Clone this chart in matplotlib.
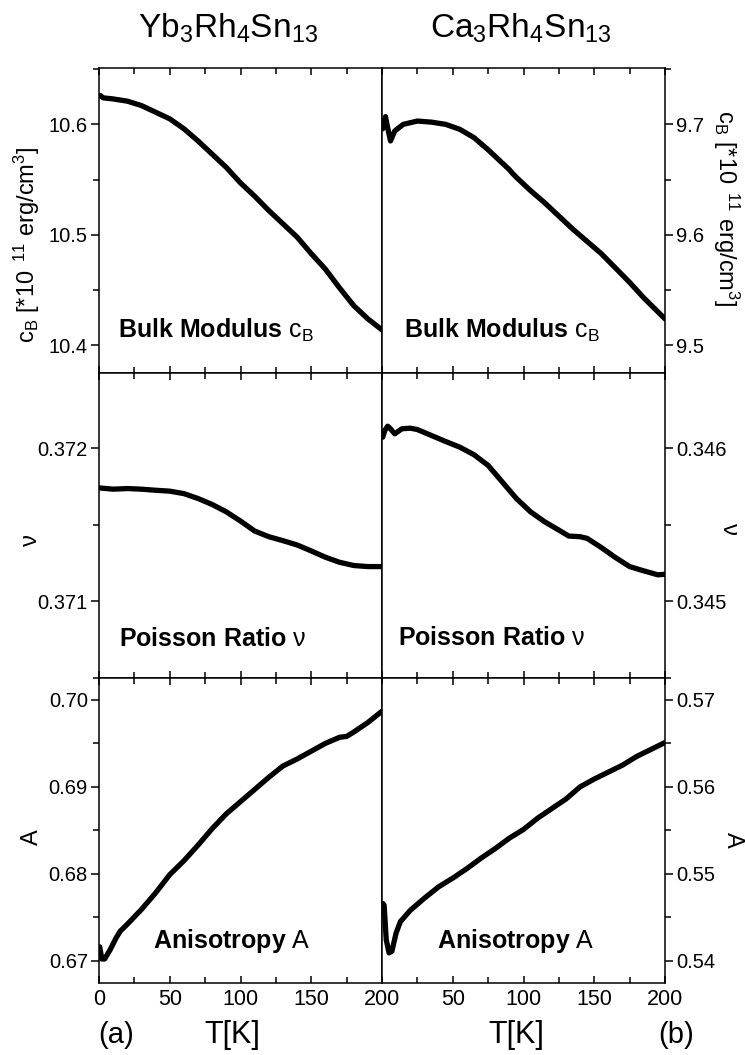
import numpy as np
import matplotlib
matplotlib.use('Agg')
import matplotlib.pyplot as plt
from matplotlib.ticker import MultipleLocator, FormatStrFormatter

plt.rcParams['font.family'] = ['Liberation Sans', 'DejaVu Sans']
plt.rcParams['mathtext.fontset'] = 'custom'
plt.rcParams['mathtext.rm'] = 'Liberation Sans'
plt.rcParams['mathtext.it'] = 'Liberation Sans:italic'
plt.rcParams['mathtext.bf'] = 'Liberation Sans:bold'

# Yb3Rh4Sn13 (a)
T_yb_cb = [1, 3, 10, 20, 30, 40, 50, 60, 70, 80, 90, 100, 110, 120, 130, 140, 150, 160, 170, 180, 190, 200]
cb_yb = [10.626, 10.624, 10.623, 10.621, 10.617, 10.611, 10.605, 10.596, 10.585, 10.573, 10.561, 10.547,
         10.535, 10.522, 10.510, 10.498, 10.483, 10.469, 10.452, 10.436, 10.424, 10.414]

T_yb_nu = [0.5, 10, 20, 30, 40, 50, 60, 70, 80, 90, 100, 110, 120, 130, 140, 150, 160, 170, 180, 190, 200]
nu_yb = [0.37174, 0.371732, 0.371736, 0.371732, 0.371725, 0.371719, 0.371703, 0.371671, 0.371632, 0.371584,
         0.371524, 0.371459, 0.371422, 0.371396, 0.371368, 0.371329, 0.371288, 0.371255, 0.371234, 0.371227, 0.371227]

T_yb_a = [0.5, 2, 4, 8, 12, 15, 20, 30, 40, 50, 60, 70, 80, 90, 100, 110, 120, 130, 140, 150, 160, 170, 175, 180, 190, 200]
a_yb = [0.6716, 0.6702, 0.6702, 0.6713, 0.6726, 0.6734, 0.6742, 0.6759, 0.6778, 0.6799, 0.6815, 0.6833, 0.6852,
        0.6869, 0.6883, 0.6897, 0.6911, 0.6924, 0.6932, 0.6941, 0.6950, 0.6957, 0.6958, 0.6963, 0.6974, 0.6987]

# Ca3Rh4Sn13 (b)
T_ca_cb = [0.5, 2.5, 3.5, 6, 9, 15, 25, 35, 45, 55, 65, 75, 85, 90, 92, 95, 105, 115, 125, 135, 145, 155, 165, 175, 185, 200]
cb_ca = [9.696, 9.707, 9.700, 9.685, 9.694, 9.700, 9.703, 9.702, 9.700, 9.6955, 9.688, 9.677, 9.665, 9.659, 9.656,
         9.652, 9.640, 9.629, 9.617, 9.605, 9.594, 9.583, 9.570, 9.557, 9.543, 9.524]

T_ca_nu = [0.5, 2, 4, 6, 9, 14, 20, 25, 35, 45, 55, 65, 75, 85, 95, 105, 115, 125, 132, 140, 145, 155, 165, 175, 185, 195, 200]
nu_ca = [0.346071, 0.346115, 0.346143, 0.346126, 0.346093, 0.346126, 0.34613, 0.346121, 0.346082, 0.346043,
         0.346006, 0.345957, 0.345887, 0.345779, 0.345671, 0.345584, 0.345519, 0.345465, 0.345426, 0.345422,
         0.345411, 0.345351, 0.345286, 0.345227, 0.345199, 0.345173, 0.345177]

T_ca_a = [0.5, 1.5, 3, 5, 7, 10, 13, 20, 30, 40, 50, 60, 70, 80, 90, 100, 110, 120, 130, 140, 150, 160, 170, 180, 190, 200]
a_ca = [0.5466, 0.5464, 0.5424, 0.5409, 0.5411, 0.5432, 0.5445, 0.5458, 0.5472, 0.5485, 0.5495, 0.5506, 0.5518,
        0.5529, 0.5541, 0.5551, 0.5564, 0.5575, 0.5586, 0.5600, 0.5609, 0.5617, 0.5625, 0.5635, 0.5643, 0.5651]

titles = [r'Yb$_3$Rh$_4$Sn$_{13}$', r'Ca$_3$Rh$_4$Sn$_{13}$']
cb_label = r'c$_\mathrm{B}$ [*10$^{\ \ 11}$ erg/cm$^3$]'

fig = plt.figure(figsize=(7.45, 10.55), dpi=100)
gs = fig.add_gridspec(3, 2, left=99 / 745, right=665 / 745, top=1 - 68 / 1055, bottom=1 - 983 / 1055,
                      hspace=0, wspace=0)
axes = [[fig.add_subplot(gs[r, c]) for c in range(2)] for r in range(3)]

rows = [
    ((T_yb_cb, cb_yb, (10.375, 10.651), 0.1, 0.05, '%.1f'),
     (T_ca_cb, cb_ca, (9.475, 9.751), 0.1, 0.05, '%.1f'),
     cb_label, r'$\mathbf{Bulk\ Modulus}$ c$_\mathrm{B}$', (0.067, 0.115), (0.076, 0.115),
     ((-0.255, 0.42), (1.215, 0.54))),
    ((T_yb_nu, nu_yb, (0.3705, 0.37249), 0.001, 0.0005, '%.3f'),
     (T_ca_nu, nu_ca, (0.3445, 0.34649), 0.001, 0.0005, '%.3f'),
     r'$\mathrm{\nu}$', r'$\mathbf{Poisson\ Ratio}$ $\mathrm{\nu}$', (0.069, 0.104), (0.056, 0.107),
     ((-0.24, 0.45), (1.226, 0.49))),
    ((T_yb_a, a_yb, (0.66744, 0.70252), 0.01, 0.005, '%.2f'),
     (T_ca_a, a_ca, (0.53744, 0.57252), 0.01, 0.005, '%.2f'),
     'A', r'$\mathbf{Anisotropy}$ A', (0.19, 0.114), (0.194, 0.114),
     ((-0.237, 0.477), (1.24, 0.47))),
]

for r, (left, right, ylab, txt, pos_l, pos_r, lab_xy) in enumerate(rows):
    for c, (tt, vv, ylim, major, minor, fmt) in enumerate([left, right]):
        ax = axes[r][c]
        ax.plot(tt, vv, color='black', lw=3.8, solid_capstyle='round', solid_joinstyle='round')
        ax.set_xlim(0, 200)
        ax.set_ylim(*ylim)
        ax.xaxis.set_major_locator(MultipleLocator(50))
        ax.xaxis.set_minor_locator(MultipleLocator(25))
        ax.yaxis.set_major_locator(MultipleLocator(major))
        ax.yaxis.set_minor_locator(MultipleLocator(minor))
        ax.yaxis.set_major_formatter(FormatStrFormatter(fmt))
        for s in ax.spines.values():
            s.set_linewidth(1.1)
        ax.tick_params(axis='x', which='both', direction='in', top=True, bottom=True,
                       labelbottom=(r == 2), labelsize=15.5, pad=4, width=1.1)
        ax.tick_params(axis='x', which='major', length=5)
        ax.tick_params(axis='x', which='minor', length=4)
        if c == 0:
            ax.tick_params(axis='y', which='both', direction='out', left=True, right=False,
                           labelleft=True, labelright=False, labelsize=14.5, pad=2, width=1.1)
            ax.set_ylabel(ylab, fontsize=17, rotation=90)
        else:
            ax.tick_params(axis='y', which='both', direction='out', left=False, right=True,
                           labelleft=False, labelright=True, labelsize=14.5, pad=2, width=1.1)
            ax.yaxis.set_label_position('right')
            ax.set_ylabel(ylab, fontsize=17, rotation=270)
        ax.yaxis.label.set_verticalalignment('center')
        ax.yaxis.label.set_horizontalalignment('center')
        ax.yaxis.set_label_coords(*lab_xy[c])
        ax.tick_params(axis='y', which='major', length=6)
        ax.tick_params(axis='y', which='minor', length=4)
        p = pos_l if c == 0 else pos_r
        ax.text(p[0], p[1], txt, transform=ax.transAxes, fontsize=18, ha='left', va='baseline')
        if r == 2 and c == 1:
            ax.set_xticks([50, 100, 150, 200])

fig.text(228 / 745, 1 - 38 / 1055, titles[0], fontsize=24, ha='center', va='baseline')
fig.text(521 / 745, 1 - 38 / 1055, titles[1], fontsize=24, ha='center', va='baseline')
fig.text(232 / 745, 1 - 1043 / 1055, 'T[K]', fontsize=22, ha='center', va='baseline')
fig.text(516 / 745, 1 - 1043 / 1055, 'T[K]', fontsize=22, ha='center', va='baseline')
fig.text(116 / 745, 1 - 1043 / 1055, '(a)', fontsize=21, ha='center', va='baseline')
fig.text(676 / 745, 1 - 1043 / 1055, '(b)', fontsize=21, ha='center', va='baseline')

fig.savefig('out.png', dpi=100)
